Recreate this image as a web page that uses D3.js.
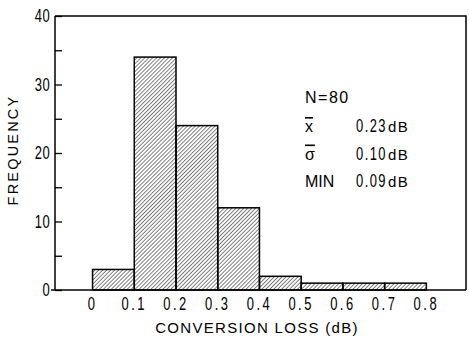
<!DOCTYPE html>
<html>
<head>
<meta charset="utf-8">
<script src="https://cdn.jsdelivr.net/npm/d3@7"></script>
<style>
  html, body { margin: 0; padding: 0; background: #fff; }
  .num { font-family: "Liberation Sans", Arial, sans-serif; }
  .lbl { font-family: "Liberation Sans", Arial, sans-serif; }
</style>
</head>
<body>
<div class="chart"></div>
<script>
// histogram of conversion loss
const binEdges = [0, 0.1, 0.2, 0.3, 0.4, 0.5, 0.6, 0.7, 0.8];
const frequency = [3, 34, 24, 12, 2, 1, 1, 1];
const xTickLabels = ["0", "0.1", "0.2", "0.3", "0.4", "0.5", "0.6", "0.7", "0.8"];
const yTicks = [0, 5, 10, 15, 20, 25, 30, 35, 40];
const yTickLabels = [0, 10, 20, 30, 40];
const statNames = ["x", "σ", "MIN"];
const statValues = ["0.23", "0.10", "0.09"];
const sampleLabel = "N=80";

const width = 469, height = 342;
const frame = { left: 55, right: 466, top: 16, bottom: 290 };
const narrow = 0.72; // horizontal squeeze for the condensed digits

const svg = d3.select(".chart").append("svg")
    .attr("width", width)
    .attr("height", height);

const x = d3.scaleLinear()
    .domain([-0.09, 0.895])
    .range([frame.left, frame.right]);

const y = d3.scaleLinear()
    .domain([0, 40])
    .range([frame.bottom, frame.top]);

// hatch pattern
svg.append("defs").append("pattern")
    .attr("id", "hatch")
    .attr("patternUnits", "userSpaceOnUse")
    .attr("width", 2.8)
    .attr("height", 2.8)
    .attr("patternTransform", "rotate(45)")
    .append("line")
    .attr("x1", 0).attr("y1", 0)
    .attr("x2", 0).attr("y2", 2.8)
    .attr("stroke", "#000")
    .attr("stroke-width", 1);

const bins = frequency.map((f, i) => ({ x0: binEdges[i], x1: binEdges[i + 1], f }));

svg.append("g")
    .selectAll("rect")
    .data(bins)
    .join("rect")
    .attr("x", d => x(d.x0))
    .attr("y", d => y(d.f))
    .attr("width", d => x(d.x1) - x(d.x0))
    .attr("height", d => y(0) - y(d.f))
    .attr("fill", "url(#hatch)")
    .attr("stroke", "#000")
    .attr("stroke-width", 1.5);

// frame: top and right edges
svg.append("path")
    .attr("d", `M${frame.left},${frame.top}H${frame.right}V${frame.bottom}`)
    .attr("fill", "none")
    .attr("stroke", "#000")
    .attr("stroke-width", 1.5);

// y axis, ticks pointing inward
const yAxis = svg.append("g")
    .attr("transform", `translate(${frame.left},0)`)
    .call(d3.axisRight(y).tickValues(yTicks).tickSize(7).tickFormat(""));
yAxis.select(".domain").attr("d", `M0,${frame.top}V${frame.bottom}`).attr("stroke-width", 1.5);
yAxis.selectAll(".tick line").attr("stroke-width", 1.3);

svg.append("g")
    .selectAll("text")
    .data(yTickLabels)
    .join("text")
    .attr("class", "num")
    .attr("transform", d => `translate(50,${y(d)}) scale(${narrow},1)`)
    .attr("dy", "0.36em")
    .attr("text-anchor", "end")
    .attr("font-size", 18)
    .attr("letter-spacing", 0.5)
    .text(d => d);

// x axis baseline without ticks
svg.append("line")
    .attr("x1", frame.left - 4).attr("x2", frame.right)
    .attr("y1", y(0)).attr("y2", y(0))
    .attr("stroke", "#000")
    .attr("stroke-width", 1.5);

svg.append("g")
    .selectAll("text")
    .data(binEdges)
    .join("text")
    .attr("class", "num")
    .attr("transform", d => `translate(${x(d)},310) scale(${narrow},1)`)
    .attr("text-anchor", "middle")
    .attr("font-size", 18)
    .attr("letter-spacing", 3.5)
    .text((d, i) => xTickLabels[i]);

// axis titles
svg.append("text")
    .attr("class", "lbl")
    .attr("x", 257)
    .attr("y", 333)
    .attr("text-anchor", "middle")
    .attr("font-size", 15)
    .attr("letter-spacing", 1.3)
    .text("CONVERSION LOSS (dB)");

svg.append("text")
    .attr("class", "lbl")
    .attr("transform", "translate(18,150) rotate(-90)")
    .attr("text-anchor", "middle")
    .attr("font-size", 14.5)
    .attr("letter-spacing", 2.2)
    .text("FREQUENCY");

// statistics legend
svg.append("text")
    .attr("class", "lbl")
    .attr("x", 305)
    .attr("y", 103)
    .attr("font-size", 16)
    .attr("letter-spacing", 1.5)
    .text(sampleLabel);

const rowY = d3.scaleLinear().domain([0, 2]).range([132, 187]);

const rows = svg.append("g")
    .selectAll("g")
    .data(statNames)
    .join("g")
    .attr("transform", (d, i) => `translate(0,${rowY(i)})`);

rows.append("text")
    .attr("class", "lbl")
    .attr("x", 305)
    .attr("font-size", 16)
    .attr("text-decoration", (d, i) => i < 2 ? "overline" : null)
    .text(d => d);

rows.append("text")
    .attr("class", "num")
    .attr("transform", `translate(356,0) scale(${narrow},1)`)
    .attr("font-size", 18)
    .attr("letter-spacing", 2)
    .text((d, i) => statValues[i]);

rows.append("text")
    .attr("class", "lbl")
    .attr("x", 388)
    .attr("font-size", 15)
    .attr("letter-spacing", 1.5)
    .text("dB");
</script>
</body>
</html>
